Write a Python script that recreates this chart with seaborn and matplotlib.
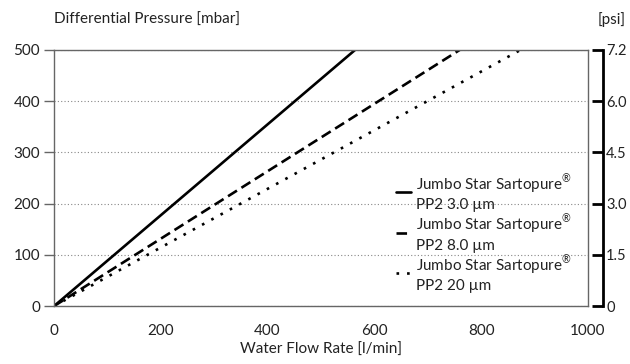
import pandas as pd
import matplotlib.pyplot as plt
import seaborn as sns

# Dữ liệu
series = [
    "Jumbo Star Sartopure$^{®}$\nPP2 3.0 µm",
    "Jumbo Star Sartopure$^{®}$\nPP2 8.0 µm",
    "Jumbo Star Sartopure$^{®}$\nPP2 20 µm",
]
flow_start = [0, 0, 0]
flow_end = [564, 760, 874]
pressure = [0, 500]
mbar_ticks = [0, 100, 200, 300, 400, 500]
psi_labels = ["0", "1.5", "3.0", "4.5", "6.0", "7.2"]
x_ticks = [0, 200, 400, 600, 800, 1000]

rows = []
for name, x0, x1 in zip(series, flow_start, flow_end):
    rows.append({"filter": name, "flow": x0, "dp": pressure[0]})
    rows.append({"filter": name, "flow": x1, "dp": pressure[1]})
df = pd.DataFrame(rows)

sns.set_theme(style="white")
plt.rcParams["font.family"] = ["Lato", "DejaVu Sans"]
plt.rcParams["mathtext.fontset"] = "custom"
plt.rcParams["mathtext.rm"] = "Lato"

fig = plt.figure(figsize=(6.3, 3.64), dpi=100)
ax = fig.add_axes([0.0857, 0.159, 0.8476, 0.704])

sns.lineplot(
    data=df, x="flow", y="dp", style="filter", ax=ax,
    color="black", linewidth=1.9,
    dashes={series[0]: "", series[1]: (4, 2), series[2]: (1, 3)},
)

ax.set_xlim(0, 1000)
ax.set_ylim(0, 500)
ax.set_xticks(x_ticks)
ax.set_yticks(mbar_ticks)
ax.grid(axis="y", linestyle=(0, (1, 2)), color="#888888", linewidth=0.8)
for s in ax.spines.values():
    s.set_color("#666666")
    s.set_linewidth(1.0)
ax.tick_params(axis="x", direction="out", length=10, width=1, color="#666666",
               labelsize=11, labelcolor="#222222", pad=3)
ax.tick_params(axis="y", direction="out", length=7, width=1, color="#666666",
               labelsize=11, labelcolor="#222222", pad=3)
ax.set_xlabel("Water Flow Rate [l/min]", fontsize=11, color="#222222", labelpad=3)
ax.set_ylabel("")

# Trục psi bên phải
ax2 = ax.twinx()
ax2.set_ylim(0, 500)
ax2.set_yticks(mbar_ticks)
ax2.set_yticklabels(psi_labels)
for k in ["top", "left", "bottom"]:
    ax2.spines[k].set_visible(False)
ax2.spines["right"].set_position(("outward", 11))
ax2.spines["right"].set_linewidth(2)
ax2.spines["right"].set_color("black")
ax2.tick_params(axis="y", direction="in", length=8, width=2, color="black",
                labelsize=10.5, labelcolor="#222222", pad=2)
ax2.grid(False)

fig.text(0.0857, 0.945, "Differential Pressure [mbar]", fontsize=11, color="#222222",
         ha="left", va="center")
fig.text(0.949, 0.945, "[psi]", fontsize=11, color="#222222", ha="left", va="center")

leg = ax.legend(
    loc="upper left", bbox_to_anchor=(0.615, 0.575), frameon=False,
    handlelength=1.0, handletextpad=0.3, labelspacing=0.05, fontsize=11,
)
for t in leg.get_texts():
    t.set_color("#222222")

plt.savefig("out.png", dpi=100)
plt.close()
